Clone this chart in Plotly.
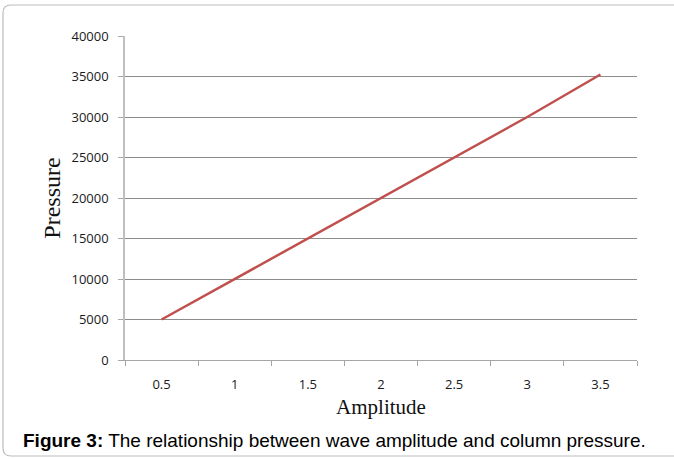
import plotly.graph_objects as go

amplitude = ["0.5", "1", "1.5", "2", "2.5", "3", "3.5"]
pressure = [5000, 10000, 15000, 20000, 25000, 30000, 35250]
y_ticks = [0, 5000, 10000, 15000, 20000, 25000, 30000, 35000, 40000]

W, H = 674, 459
L, R, T, B = 125, 37, 36, 99
pw, ph = W - L - R, H - T - B

def px(x):
    return (x - L) / pw

def py(y):
    return (H - B - y) / ph

fig = go.Figure()
fig.add_trace(go.Scatter(
    x=amplitude, y=pressure, mode="lines",
    line=dict(color="#C0504D", width=2.5), showlegend=False, hoverinfo="skip"))

# rounded frame around figure
x0, y0, x1, y1, r = 3, 5, 690, 456, 8
path = (f"M {px(x0)} {py(y0 + r)} L {px(x0)} {py(y1 - r)} "
        f"Q {px(x0)} {py(y1)} {px(x0 + r)} {py(y1)} L {px(x1)} {py(y1)} "
        f"M {px(x0)} {py(y0 + r)} Q {px(x0)} {py(y0)} {px(x0 + r)} {py(y0)} L {px(x1)} {py(y0)}")
fig.add_shape(type="path", path=path, xref="paper", yref="paper",
              line=dict(color="#BDBDBD", width=1.2), layer="below")

fig.add_annotation(
    text="<b>Figure 3:</b> The relationship between wave amplitude and column pressure.",
    xref="paper", yref="paper", x=px(21), y=py(440), xanchor="left", yanchor="middle",
    showarrow=False, font=dict(family="Liberation Sans, Arial", size=19, color="#000000"))

fig.update_layout(
    width=W, height=H,
    margin=dict(l=L, r=R, t=T, b=B, pad=0),
    paper_bgcolor="white", plot_bgcolor="white",
    xaxis=dict(
        type="category", categoryorder="array", categoryarray=amplitude,
        range=[-0.5, len(amplitude) - 0.5],
        showgrid=False, showline=True, linecolor="#A6A6A6", linewidth=1,
        ticks="outside", tickson="boundaries", ticklen=5, tickcolor="#A6A6A6",
        ticklabelstandoff=12,
        tickfont=dict(family="Open Sans, Liberation Sans", size=13, color="#1a1a1a"),
        title=dict(text="Amplitude", standoff=7,
                   font=dict(family="Liberation Serif, Times New Roman", size=21, color="#111111")),
        zeroline=False, fixedrange=True),
    yaxis=dict(
        range=[0, 40000], tickvals=y_ticks, ticktext=[str(v) for v in y_ticks],
        showgrid=True, gridcolor="#8C8C8C", gridwidth=1,
        showline=True, linecolor="#BFBFBF", linewidth=1.5,
        ticks="outside", ticklen=5, tickcolor="#A6A6A6",
        ticklabelstandoff=7,
        tickfont=dict(family="Open Sans, Liberation Sans", size=13, color="#1a1a1a"),
        title=dict(text="Pressure", standoff=4,
                   font=dict(family="Liberation Serif, Times New Roman", size=24, color="#111111")),
        zeroline=False, fixedrange=True),
)

fig.write_html("out.html", config={"displayModeBar": False},
               post_script="document.body.style.margin='0';document.body.style.overflow='hidden';")
